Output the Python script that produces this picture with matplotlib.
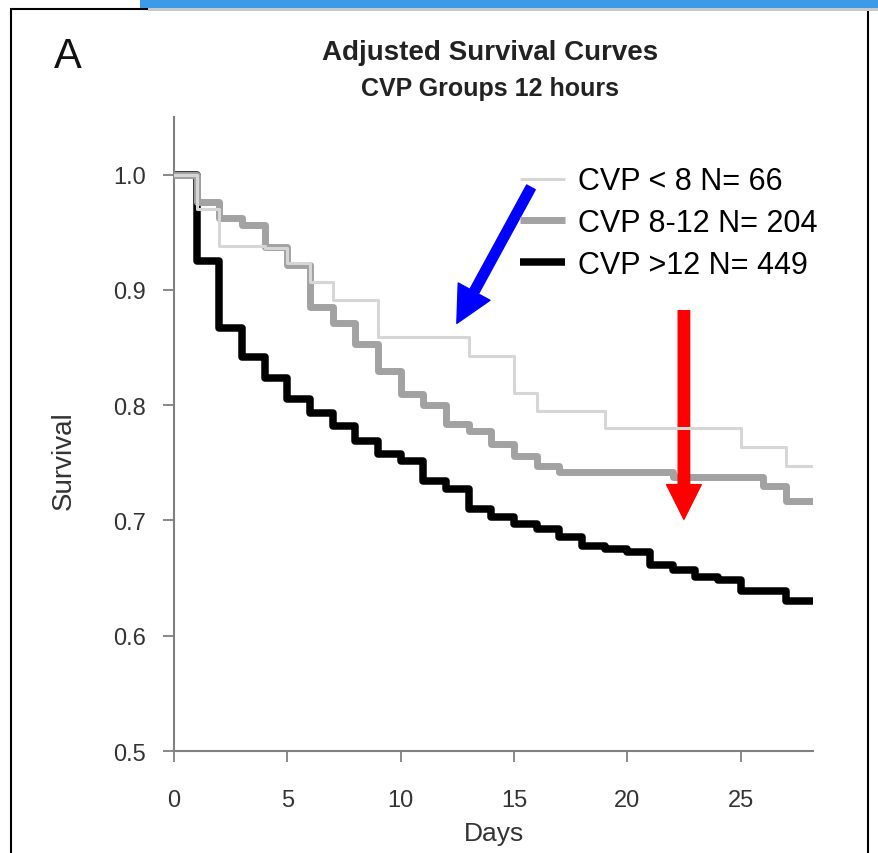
import matplotlib.pyplot as plt
from matplotlib.patches import Rectangle

# survival values (step changes at whole days)
days = [0, 1, 2, 3, 4, 5, 6, 7, 8, 9, 10, 11, 12, 13, 14, 15, 16, 17, 18, 19,
        20, 21, 22, 23, 24, 25, 26, 27, 28.2]
cvp_low = [1.0, 0.970, 0.938, 0.938, 0.936, 0.923, 0.907, 0.891, 0.891, 0.859,
           0.859, 0.859, 0.859, 0.843, 0.843, 0.811, 0.795, 0.795, 0.795, 0.780,
           0.780, 0.780, 0.780, 0.780, 0.780, 0.764, 0.764, 0.747, 0.747]
cvp_mid = [1.0, 0.976, 0.962, 0.956, 0.937, 0.922, 0.885, 0.871, 0.853, 0.830,
           0.810, 0.800, 0.784, 0.778, 0.766, 0.756, 0.747, 0.742, 0.742, 0.742,
           0.742, 0.742, 0.738, 0.738, 0.738, 0.738, 0.730, 0.717, 0.717]
cvp_high = [1.0, 0.925, 0.867, 0.842, 0.824, 0.805, 0.793, 0.782, 0.769, 0.758,
            0.752, 0.734, 0.727, 0.710, 0.703, 0.697, 0.693, 0.686, 0.678, 0.675,
            0.673, 0.661, 0.657, 0.651, 0.648, 0.639, 0.639, 0.630, 0.630]
labels = ["CVP < 8 N= 66", "CVP 8-12 N= 204", "CVP >12 N= 449"]
xticks = [0, 5, 10, 15, 20, 25]
yticks = [0.5, 0.6, 0.7, 0.8, 0.9, 1.0]

plt.rcParams["font.family"] = ["Liberation Sans", "DejaVu Sans"]

fig = plt.figure(figsize=(8.79, 8.54), dpi=100)
ax = fig.add_axes([0.198, 0.1194, 0.727, 0.7424])

l3, = ax.step(days, cvp_high, where="post", color="black", lw=5.4, zorder=2)
l2, = ax.step(days, cvp_mid, where="post", color="#a2a2a2", lw=5.0, zorder=3)
l1, = ax.step(days, cvp_low, where="post", color="#d6d6d6", lw=2.2, zorder=4)

ax.set_xlim(0, 28.2)
ax.set_ylim(0.5, 1.05)
ax.set_xticks(xticks)
ax.set_yticks(yticks)
ax.set_yticklabels(["%.1f" % v for v in yticks])
for s in ["top", "right"]:
    ax.spines[s].set_visible(False)
for s in ["left", "bottom"]:
    ax.spines[s].set_color("#808080")
    ax.spines[s].set_linewidth(1.5)
ax.tick_params(direction="out", length=8, width=1.3, color="#808080",
               labelcolor="#333333", labelsize=17)
ax.tick_params(axis="x", pad=19)
ax.tick_params(axis="y", pad=12)
ax.set_xlabel("Days", fontsize=19, color="#333333", va="top")
ax.xaxis.set_label_coords(0.5, -0.11)
ax.set_ylabel("Survival", fontsize=20, color="#333333", va="center")
ax.yaxis.set_label_coords(-0.172, 0.46)

leg = ax.legend([l1, l2, l3], labels, loc="upper left", bbox_to_anchor=(0.541, 0.922),
                frameon=False, fontsize=22, handlelength=1.47, handletextpad=0.43,
                labelspacing=0.38, borderaxespad=0, borderpad=0)
for h in leg.get_lines():
    h.set_solid_capstyle("butt")

# arrows
ax.annotate("", xy=(12.48, 0.871), xytext=(15.75, 0.989),
            arrowprops=dict(arrowstyle="simple,head_width=1.0,head_length=1.0,tail_width=0.27",
                            mutation_scale=26, color="blue", shrinkA=0, shrinkB=0))
ax.annotate("", xy=(22.5, 0.701), xytext=(22.5, 0.882),
            arrowprops=dict(arrowstyle="simple,head_width=1.0,head_length=1.0,tail_width=0.33",
                            mutation_scale=25, color="red", shrinkA=0, shrinkB=0))

fig.text(0.557, 1 - 53 / 854, "Adjusted Survival Curves", ha="center", va="center",
         fontsize=20, fontweight="bold", color="#222222")
fig.text(0.557, 1 - 89 / 854, "CVP Groups 12 hours", ha="center", va="center",
         fontsize=18, fontweight="bold", color="#222222")
fig.text(54 / 879, 1 - 57 / 854, "A", ha="left", va="center", fontsize=30, color="#111111")

# screenshot frame and blue bar at the top
fig.patches.append(Rectangle((11 / 879, -0.01), 857 / 879, 1 - 10 / 854 + 0.01,
                             transform=fig.transFigure, fill=False, ec="black", lw=1.5))
fig.patches.append(Rectangle((148 / 879, 1 - 12 / 854), 1, 4 / 854,
                             transform=fig.transFigure, color="#c8c8c8", lw=0))
fig.patches.append(Rectangle((140 / 879, 1 - 9 / 854), 1, 9 / 854,
                             transform=fig.transFigure, color="#3b9be9", lw=0))

fig.savefig("out.png", dpi=100)
